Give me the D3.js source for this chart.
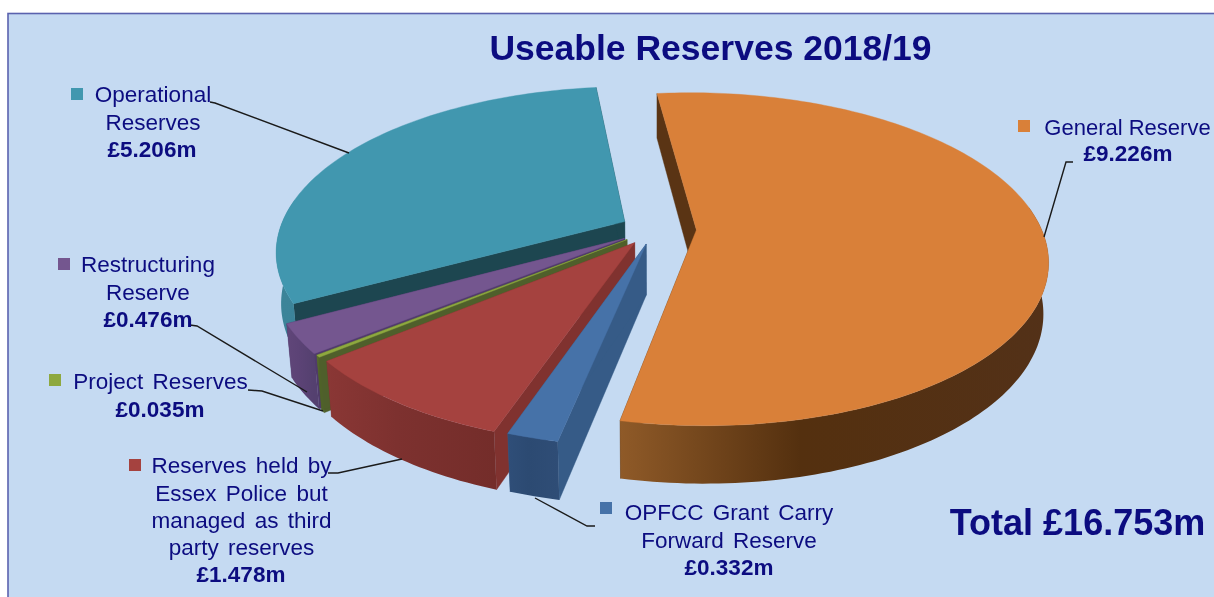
<!DOCTYPE html>
<html><head><meta charset="utf-8">
<script src="https://cdn.jsdelivr.net/npm/d3@7"></script>
<style>html,body{margin:0;padding:0;background:#fff;overflow:hidden}svg{display:block;filter:blur(0.45px)}
text{font-family:"Liberation Sans",Arial,sans-serif;fill:#0c0c80}</style>
</head><body><svg id="c" width="1214" height="597"></svg>
<script>
// data
const titleText = "Useable Reserves 2018/19";
const totalText = "Total £16.753m";
const categories = ["General Reserve","OPFCC Grant Carry Forward Reserve","Reserves held by Essex Police but managed as third party reserves","Project Reserves","Restructuring Reserve","Operational Reserves"];
const values = [9.226,0.332,1.478,0.035,0.476,5.206];
const valueLabels = ["£9.226m","£0.332m","£1.478m","£0.035m","£0.476m","£5.206m"];
const labelLines = [["General Reserve"],["OPFCC Grant Carry","Forward Reserve"],["Reserves held by","Essex Police but","managed as third","party reserves"],["Project Reserves"],["Restructuring","Reserve"],["Operational","Reserves"]];

// style + layout
const topCol  = ["#d98039","#4672a8","#a5423f","#8ea83f","#74568f","#4197af"];
const faceCol = ["#5a3414","#365b87","#80322f","#4f5f2b","#503a6c","#1d4650"];
const wallCol = [["#8f5a28","#54300f","#533118"],["#2f4e78","#2c4a72","#2f4d76"],["#8a3735","#7d312f","#742d2a"],["#5a6e2d","#566a2c","#4f6228"],["#604679","#5c4376","#54406f"],["#3c8499","#3a8296","#387e92"]];
const explode = [0.12,0.095,0.102,0.103,0.105,0.10];
const labelPos = [
 {sq:[1018,120],x:1127.5,vx:1128,fs:22,ws:0,ys:[135,161]},
 {sq:[600,502],x:729,vx:729,fs:22.5,ws:3,ys:[520,548,575]},
 {sq:[129,459],x:241.5,vx:241,fs:22.5,ws:3,ys:[473,501,528,555,582]},
 {sq:[49,374],x:160.5,vx:160,fs:22.5,ws:3,ys:[389,417]},
 {sq:[58,258],x:148,vx:148,fs:22.5,ws:3,ys:[272,300,327]},
 {sq:[71,88],x:153,vx:152,fs:22.5,ws:3,ys:[102,130,157]}];
const leaders = [
 [[1073,162],[1066,162],[1044,237]],
 [[535,498],[587,526],[595,526]],
 [[328,473],[338,473],[402,459]],
 [[248,390],[262,391],[323,411]],
 [[190,325],[197,326],[307,392]],
 [[210,102],[215,103],[349,153]]];

const svg = d3.select("#c");
svg.append("rect").attr("x",8).attr("y",13.5).attr("width",1210).attr("height",590)
  .attr("fill","#c5daf2").attr("stroke","#5a62ae").attr("stroke-width",1.6);

// perspective projection of the tilted pie plane
const cx=655, cy=229, R=345, Ry=161, k=0.176, m=0.013, H=51;
const project=(u,v,z)=>{const s=1/(1+k*v+m*z);return [cx+R*u*s, cy+(-Ry*v+H*z)*s];};

const rot = -6.5*Math.PI/180;
const pie = d3.pie().sort(null).startAngle(rot).endAngle(rot+2*Math.PI);
const arcs = pie(values);
const line = d3.line();
const defs = svg.append("defs");

const order=[5,4,3,2,1,0];
order.forEach(i=>{
  const a=arcs[i], mid=(a.startAngle+a.endAngle)/2;
  const ox=explode[i]*Math.sin(mid), oy=explode[i]*Math.cos(mid);
  const P=(t,r,z)=>project(ox+r*Math.sin(t),oy+r*Math.cos(t),z);
  const n=Math.max(4,Math.round((a.endAngle-a.startAngle)/0.02));
  const ts=d3.range(n+1).map(j=>a.startAngle+(a.endAngle-a.startAngle)*j/n);
  const rimT=ts.map(t=>P(t,1,0));
  const apexT=P(0,0,0), apexB=P(0,0,1);
  const g=svg.append("g");
  // radial faces (behind the wall)
  [a.startAngle,a.endAngle].forEach(t=>{
    g.append("path").attr("d",line([apexT,P(t,1,0),P(t,1,1),apexB])+"Z")
     .attr("fill",faceCol[i]).attr("stroke",faceCol[i]).attr("stroke-width",.4);
  });
  // curved wall: only the part turned towards the viewer
  const nearTs=ts.filter(t=>Math.cos(t)<0.15);
  const wT=nearTs.map(t=>P(t,1,0)), wB=nearTs.map(t=>P(t,1,1));
  const xs=rimT.map(p=>p[0]);
  const gid="w"+i;
  const gr=defs.append("linearGradient").attr("id",gid).attr("gradientUnits","userSpaceOnUse")
    .attr("x1",d3.min(xs)).attr("x2",d3.max(xs)).attr("y1",0).attr("y2",0);
  wallCol[i].forEach((c,j)=>gr.append("stop").attr("offset",j===1?0.42:j/2).attr("stop-color",c));
  g.append("path").attr("d",line(wT.concat(wB.slice().reverse()))+"Z").attr("fill",`url(#${gid})`);
  // top
  g.append("path").attr("d",line([apexT].concat(rimT))+"Z").attr("fill",topCol[i])
   .attr("stroke",topCol[i]).attr("stroke-width",.4);
});

// leaders
leaders.forEach(l=>svg.append("path").attr("d",line(l)).attr("fill","none").attr("stroke","#1a1a1a").attr("stroke-width",1.4));

// labels
svg.append("text").attr("x",710.5).attr("y",60).attr("text-anchor","middle").attr("font-weight","bold").attr("font-size",35.5).text(titleText);
svg.append("text").attr("x",1077.5).attr("y",535).attr("text-anchor","middle").attr("font-weight","bold").attr("font-size",36).text(totalText);
categories.forEach((c,i)=>{
  const p=labelPos[i];
  svg.append("rect").attr("x",p.sq[0]).attr("y",p.sq[1]).attr("width",12).attr("height",12).attr("fill",topCol[i]);
  labelLines[i].forEach((t,j)=>{
    svg.append("text").attr("x",p.x).attr("y",p.ys[j]).attr("text-anchor","middle").attr("font-size",p.fs).attr("word-spacing",p.ws).text(t);
  });
  svg.append("text").attr("x",p.vx).attr("y",p.ys[labelLines[i].length]).attr("text-anchor","middle").attr("font-weight","bold").attr("font-size",22.5).text(valueLabels[i]);
});
</script></body></html>
